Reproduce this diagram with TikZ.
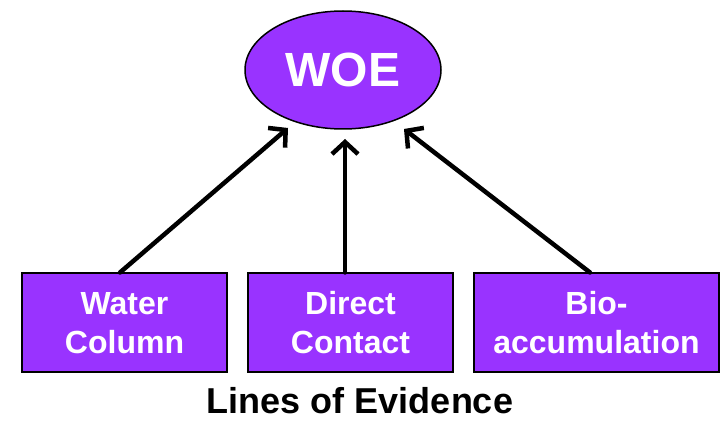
\documentclass[tikz,border=0pt]{standalone}
\usepackage{fontspec}
\setmainfont{Liberation Sans}
\usetikzlibrary{arrows.meta,shapes.geometric}
\definecolor{woepurple}{HTML}{9933FF}
\begin{document}
\begin{tikzpicture}[x=1pt,y=-1pt,
  lebox/.style={draw=black,line width=2pt,fill=woepurple,text=white,align=center,
    font=\bfseries\fontsize{32}{39}\selectfont,inner sep=0pt,minimum height=99pt},
  conn/.style={line width=4.5pt,-{Straight Barb[length=12pt,width=26pt,line width=4.5pt]},line cap=round}]
\useasboundingbox (0,0) rectangle (721,422);
\node[ellipse,draw=black,line width=1.5pt,fill=woepurple,text=white,
  minimum width=196pt,minimum height=118pt,inner sep=0pt,
  font=\bfseries\fontsize{48}{52}\selectfont] (woe) at (343,70) {WOE};
\node[lebox,minimum width=205pt] (wc) at (124.5,323) {Water\\Column};
\node[lebox,minimum width=205pt] (dc) at (350.5,323) {Direct\\Contact};
\node[lebox,minimum width=245pt] (bio) at (596.5,323) {Bio-\\accumulation};
\node[font=\bfseries\fontsize{36}{40}\selectfont,inner sep=0pt] (loe) at (360,401) {Lines of Evidence};
\coordinate (t1) at (288,128);
\coordinate (t2) at (345,139);
\coordinate (t3) at (404,129);
\draw[conn] (wc.north -| 120,0) -- (t1);
\draw[conn] (dc.north -| 345,0) -- (t2);
\draw[conn] (bio.north -| 590,0) -- (t3);
\end{tikzpicture}
\end{document}
